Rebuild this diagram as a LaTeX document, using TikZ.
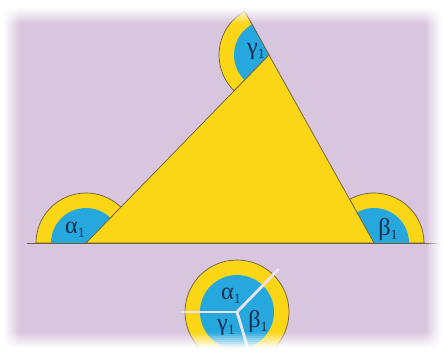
\documentclass[tikz,border=0pt]{standalone}
\usepackage{amsmath, amssymb}
\usepackage{fontspec}
\newfontfamily\gorog{Liberation Serif}

\definecolor{hatter}{RGB}{216,197,222}
\definecolor{sarga}{RGB}{250,214,22}
\definecolor{kek}{RGB}{38,168,222}
\definecolor{kontur}{RGB}{110,92,60}
\definecolor{betu}{RGB}{28,45,78}

\newcommand{\szog}[1]{#1\raisebox{-0.35ex}{\large 1}}

\tikzset{
  kulso/.style={fill=sarga, draw=kontur, line width=0.6pt},
  belso/.style={fill=kek},
  oldal/.style={draw=kontur, line width=0.6pt},
  szogbetu/.style={text=betu, font=\gorog\huge, inner sep=0pt},
  valaszto/.style={draw=hatter!50!white, line width=2.4pt}
}

\begin{document}
\begin{tikzpicture}[x=0.03cm, y=0.03cm]
				\useasboundingbox (0,0) rectangle (445,358);
				% háttér
				\fill[hatter] (0,0) rectangle (445,358);
				
				% csúcsok
				\coordinate (A) at (86,115);
				\coordinate (B) at (374,115);
				\coordinate (C) at (269,303);
				\coordinate (bal) at (27,115);
				\coordinate (jobb) at (445,115);
				\coordinate (fent) at (242,352);
				\coordinate (K) at (237,46);
				
				% külső szögek
				\filldraw[kulso] (A) -- ++(45.8:50) arc[start angle=45.8, end angle=180, radius=50] -- cycle;
				\fill[belso] (A) -- ++(45.8:35) arc[start angle=45.8, end angle=180, radius=35] -- cycle;
				\filldraw[kulso] (B) -- ++(0:50) arc[start angle=0, end angle=119.2, radius=50] -- cycle;
				\fill[belso] (B) -- ++(0:35) arc[start angle=0, end angle=119.2, radius=35] -- cycle;
				\filldraw[kulso] (C) -- ++(119.2:50) arc[start angle=119.2, end angle=225.8, radius=50] -- cycle;
				\fill[belso] (C) -- ++(119.2:35) arc[start angle=119.2, end angle=225.8, radius=35] -- cycle;
				
				% háromszög és egyenesek
				\filldraw[fill=sarga, oldal] (A) -- (B) -- (C) -- cycle;
				\draw[oldal] (bal) -- (jobb);
				\draw[oldal] (C) -- (fent);
				
				% feliratok
				\node[szogbetu] (alfa) at ([shift={(-11,13)}]A) {\szog{α}};
				\node[szogbetu] (beta) at ([shift={(14,13)}]B) {\szog{β}};
				\node[szogbetu] (gamma) at ([shift={(-13,3)}]C) {\szog{γ}};
				
				% teljes kör
				\begin{scope}
					\clip (0,10) rectangle (445,358);
					\filldraw[kulso] (K) circle (52);
					\fill[belso] (K) circle (37);
					\draw[valaszto] (K) -- ++(45.8:60);
					\draw[valaszto] (K) -- ++(180:56);
					\draw[valaszto] (K) -- ++(286.6:54);
				\end{scope}
				\node[szogbetu] (alfak) at ([shift={(-6,16)}]K) {\szog{α}};
				\node[szogbetu] (gammak) at ([shift={(-11,-16)}]K) {\szog{γ}};
				\node[szogbetu] (betak) at ([shift={(21,-10)}]K) {\szog{β}};
				
				% elhalványuló szélek
				\fill[white] (0,0) rectangle (445,10);
				\fill[white] (0,350) rectangle (445,358);
				\fill[white] (0,0) rectangle (4,358);
				\fill[white] (441,0) rectangle (445,358);
				\foreach \i [evaluate=\i as \op using {1-(\i+0.5)/8}] in {0,...,7} {
					\fill[white, opacity=\op] (0,{10+2*\i}) rectangle (445,{12+2*\i});
					\fill[white, opacity=\op] (0,{350-2*\i}) rectangle (445,{348-2*\i});
					\fill[white, opacity=\op] ({4+2*\i},0) rectangle ({6+2*\i},358);
					\fill[white, opacity=\op] ({441-2*\i},0) rectangle ({439-2*\i},358);
				}
				
\end{tikzpicture}
\end{document}
